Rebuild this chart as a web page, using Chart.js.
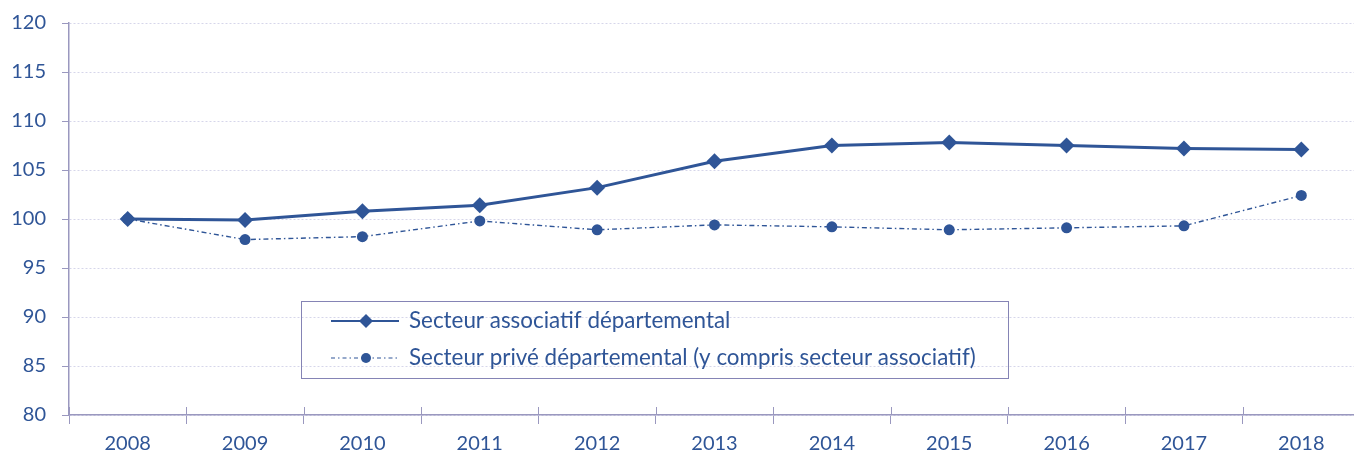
<!DOCTYPE html>
<html>
<head>
<meta charset="utf-8">
<script src="https://cdn.jsdelivr.net/npm/chart.js@4/dist/chart.umd.min.js"></script>
<style>
  html, body { margin: 0; padding: 0; background: #ffffff; overflow: hidden; }
  #wrap { position: absolute; left: 0; top: -5px; width: 1368px; height: 460px; }
</style>
</head>
<body>
<div id="wrap"><canvas id="c"></canvas></div>
<script>
const categories = ['2008','2009','2010','2011','2012','2013','2014','2015','2016','2017','2018'];
const seriesAssociatif = [100.0, 99.9, 100.8, 101.4, 103.2, 105.9, 107.5, 107.8, 107.5, 107.2, 107.1];
const seriesPrive = [100.0, 97.9, 98.2, 99.8, 98.9, 99.4, 99.2, 98.9, 99.1, 99.3, 102.4];
const labelAssociatif = 'Secteur associatif départemental';
const labelPrive = 'Secteur privé départemental (y compris secteur associatif)';
const yMin = 80, yMax = 120, yStep = 5;

const BLUE = '#2f5597';
const AXIS = '#9a98bf';
const FONT = 'Lato, "Open Sans", sans-serif';
const OFFSET_Y = 5; // canvas shifted up by this many pixels

const innerTicks = {
  id: 'innerTicks',
  afterDraw(chart) {
    const xs = chart.scales.x;
    const ctx = chart.ctx;
    const y = chart.chartArea.bottom;
    ctx.save();
    ctx.strokeStyle = AXIS;
    ctx.lineWidth = 1;
    for (let i = 0; i <= categories.length; i++) {
      const x = Math.round(xs.getPixelForValue(i - 0.5)) + 0.5;
      ctx.beginPath();
      ctx.moveTo(x, y - 8);
      ctx.lineTo(x, y);
      ctx.stroke();
    }
    ctx.restore();
  }
};

const boxLegend = {
  id: 'boxLegend',
  afterDraw(chart) {
    const ctx = chart.ctx;
    const o = OFFSET_Y;
    ctx.save();
    ctx.strokeStyle = '#8584b5';
    ctx.lineWidth = 1;
    ctx.strokeRect(301.5, 301.5 + o, 707, 77);
    const rows = [
      {ds: chart.data.datasets[0], y: 321 + o, lw: 2.2, dash: [], r: 7},
      {ds: chart.data.datasets[1], y: 358 + o, lw: 1.2, dash: [4, 3, 1.5, 3], r: 5}
    ];
    rows.forEach(r => {
      const ds = r.ds;
      ctx.save();
      ctx.strokeStyle = ds.borderColor;
      ctx.lineWidth = r.lw;
      ctx.setLineDash(r.dash);
      ctx.beginPath();
      ctx.moveTo(331, r.y);
      ctx.lineTo(399, r.y);
      ctx.stroke();
      ctx.restore();
      ctx.save();
      ctx.fillStyle = ds.pointBackgroundColor;
      ctx.strokeStyle = ds.pointBorderColor;
      Chart.helpers.drawPoint(ctx, {pointStyle: ds.pointStyle, radius: r.r, rotation: 0, borderWidth: 0}, 366, r.y);
      ctx.restore();
      ctx.fillStyle = BLUE;
      ctx.font = '22.4px ' + FONT;
      ctx.textBaseline = 'middle';
      ctx.textAlign = 'left';
      ctx.fillText(ds.label, 409, r.y);
    });
    ctx.restore();
  }
};

new Chart(document.getElementById('c'), {
  type: 'line',
  data: {
    labels: categories,
    datasets: [
      {
        label: labelAssociatif,
        data: seriesAssociatif,
        borderColor: BLUE,
        backgroundColor: BLUE,
        borderWidth: 3,
        pointStyle: 'rectRot',
        pointRadius: 8,
        pointHoverRadius: 8,
        pointBackgroundColor: BLUE,
        pointBorderColor: BLUE,
        pointBorderWidth: 0,
        tension: 0
      },
      {
        label: labelPrive,
        data: seriesPrive,
        borderColor: BLUE,
        backgroundColor: BLUE,
        borderWidth: 1.4,
        borderDash: [5, 3, 1.5, 3],
        pointStyle: 'circle',
        pointRadius: 5.5,
        pointHoverRadius: 5.5,
        pointBackgroundColor: BLUE,
        pointBorderColor: BLUE,
        pointBorderWidth: 0,
        tension: 0
      }
    ]
  },
  options: {
    responsive: true,
    maintainAspectRatio: false,
    animation: false,
    layout: { padding: { left: 0, top: 18, right: 3, bottom: 0 } },
    plugins: { legend: { display: false }, tooltip: { enabled: false } },
    scales: {
      x: {
        type: 'category',
        offset: true,
        afterFit(s) { s.height = 40; },
        grid: {
          offset: true,
          drawOnChartArea: false,
          tickLength: 9,
          tickColor: AXIS,
          tickWidth: 1
        },
        border: { color: AXIS, width: 1.5 },
        ticks: {
          color: BLUE,
          font: { family: FONT, size: 20 },
          padding: 8,
          maxRotation: 0,
          autoSkip: false
        }
      },
      y: {
        min: yMin,
        max: yMax,
        afterFit(s) { s.width = 69; },
        grid: {
          color: '#d6d6ea',
          lineWidth: 1,
          tickLength: 7,
          tickColor: AXIS,
          tickWidth: 1,
          tickBorderDash: []
        },
        border: { color: AXIS, width: 1.5, dash: [2, 2] },
        ticks: {
          stepSize: yStep,
          color: BLUE,
          font: { family: FONT, size: 20 },
          padding: 16
        }
      }
    }
  },
  plugins: [innerTicks, boxLegend]
});
</script>
</body>
</html>
